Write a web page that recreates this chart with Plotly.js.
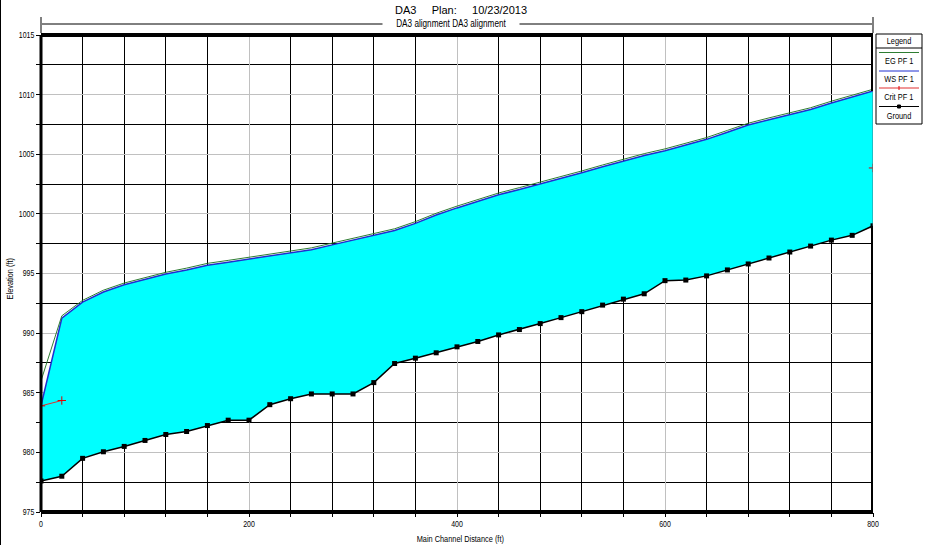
<!DOCTYPE html>
<html>
<head>
<meta charset="utf-8">
<script src="https://cdn.plot.ly/plotly-3.0.1.min.js"></script>
<style>html,body{margin:0;padding:0;background:#fff;}#chart{width:927px;height:545px;}</style>
</head>
<body>
<div id="chart"></div>
<script>
// ---- Data ----
var stations = [0,20,40,60,80,100,120,140,160,180,200,220,240,260,280,300,320,340,360,380,400,420,440,460,480,500,520,540,560,580,600,620,640,660,680,700,720,740,760,780,800];
var groundElev = [977.6,978.0,979.5,980.05,980.5,981.0,981.5,981.75,982.25,982.7,982.7,984.0,984.5,984.9,984.9,984.9,985.85,987.45,987.9,988.35,988.85,989.3,989.85,990.3,990.8,991.3,991.8,992.35,992.85,993.3,994.4,994.45,994.8,995.3,995.8,996.3,996.8,997.3,997.8,998.2,999.0];
var wsElev = [983.9,991.25,992.6,993.45,994.05,994.5,994.95,995.3,995.7,995.95,996.2,996.45,996.7,997.0,997.4,997.8,998.15,998.6,999.2,999.9,1000.5,1001.05,1001.6,1002.05,1002.5,1003.0,1003.45,1003.95,1004.45,1004.9,1005.3,1005.75,1006.25,1006.85,1007.45,1007.9,1008.3,1008.75,1009.3,1009.8,1010.3];
var egElev = [986.0,991.45,992.75,993.6,994.2,994.65,995.1,995.45,995.85,996.1,996.35,996.6,996.85,997.15,997.55,997.95,998.3,998.75,999.35,1000.05,1000.65,1001.2,1001.75,1002.2,1002.65,1003.15,1003.6,1004.1,1004.6,1005.05,1005.45,1005.9,1006.4,1007.0,1007.6,1008.05,1008.45,1008.9,1009.45,1009.95,1010.45];
var critStations = [0,20,null,800];
var critElev = [983.9,984.35,null,1003.85];
var legendLabels = ["EG PF 1","WS PF 1","Crit PF 1","Ground"];
var chartTitle = "DA3\u00A0\u00A0\u00A0\u00A0\u00A0Plan:\u00A0\u00A0\u00A0\u00A0\u00A010/23/2013";
var reachLabel = "DA3 alignment DA3 alignment";
var xTitle = "Main Channel Distance (ft)";
var yTitle = "Elevation (ft)";
var xRange = [0, 800];
var yRange = [975, 1015];

// ---- Layout helpers (pixel -> paper) ----
var L = 41, R = 873, T = 35, B = 512;
function px(x){ return (x - L) / (R - L); }
function py(y){ return (B - y) / (B - T); }
var FONT = "Liberation Sans Narrow, Arial Narrow, Liberation Sans, Arial, sans-serif";

var nLast = stations.length - 1;

var traces = [
  {x: stations, y: groundElev, mode: 'lines', line: {width: 0, color: 'rgba(0,0,0,0)'}, hoverinfo: 'skip', showlegend: false},
  {x: stations, y: wsElev, mode: 'lines', fill: 'tonexty', fillcolor: '#00FFFF', line: {color: '#1f2fd0', width: 1.5}, showlegend: false},
  {x: stations, y: egElev, mode: 'lines', line: {color: '#2e7d32', width: 1}, showlegend: false},
  {x: critStations, y: critElev, mode: 'lines+markers', connectgaps: false, line: {color: '#e03030', width: 1},
   marker: {symbol: 'cross-thin', size: 6, line: {color: '#e00000', width: 1}}, showlegend: false},
  {x: stations, y: groundElev, mode: 'lines+markers', line: {color: '#000', width: 1.5},
   marker: {symbol: 'square', size: 5, color: '#000'}, showlegend: false}
];

var shapes = [
  // thick frame (top, bottom, left above data)
  {type:'line', xref:'paper', yref:'paper', x0:0, x1:1, y0:1, y1:1, line:{color:'#000', width:4}, layer:'above'},
  {type:'line', xref:'paper', yref:'paper', x0:0, x1:1, y0:0, y1:0, line:{color:'#000', width:4}, layer:'above'},
  {type:'line', xref:'paper', yref:'paper', x0:0, x1:0, y0:0, y1:1, line:{color:'#000', width:3}, layer:'above'},
  // right frame: interrupted where the water fill reaches the end section
  {type:'line', xref:'x', yref:'y', x0:xRange[1], x1:xRange[1], y0:wsElev[nLast], y1:yRange[1], line:{color:'#000', width:4}, layer:'above'},
  {type:'line', xref:'x', yref:'y', x0:xRange[1], x1:xRange[1], y0:yRange[0], y1:groundElev[nLast], line:{color:'#000', width:4}, layer:'above'},
  {type:'line', xref:'x', yref:'y', x0:xRange[1], x1:xRange[1], y0:groundElev[nLast], y1:wsElev[nLast], line:{color:'#3a7f8a', width:1}, layer:'above'},
  // outer left border of picture
  {type:'line', xref:'paper', yref:'paper', x0:px(0.5), x1:px(0.5), y0:py(0), y1:py(545), line:{color:'#000', width:1}},
  // reach line
  {type:'line', xref:'paper', yref:'paper', x0:px(42), x1:px(872), y0:py(24), y1:py(24), line:{color:'#000', width:1}},
  {type:'line', xref:'paper', yref:'paper', x0:px(41), x1:px(41), y0:py(17), y1:py(33), line:{color:'#000', width:1}},
  {type:'line', xref:'paper', yref:'paper', x0:px(873), x1:px(873), y0:py(17), y1:py(33), line:{color:'#000', width:1}},
  // legend box
  {type:'rect', xref:'paper', yref:'paper', x0:px(876), x1:px(922), y0:py(34), y1:py(124), line:{color:'#000', width:1}, fillcolor:'#fff'},
  {type:'line', xref:'paper', yref:'paper', x0:px(876), x1:px(922), y0:py(48), y1:py(48), line:{color:'#000', width:1}},
  {type:'line', xref:'paper', yref:'paper', x0:px(879), x1:px(919), y0:py(52.5), y1:py(52.5), line:{color:'#2e7d32', width:1}},
  {type:'line', xref:'paper', yref:'paper', x0:px(879), x1:px(919), y0:py(71), y1:py(71), line:{color:'#1f2fd0', width:1}},
  {type:'line', xref:'paper', yref:'paper', x0:px(879), x1:px(919), y0:py(88), y1:py(88), line:{color:'#e03030', width:1}},
  {type:'line', xref:'paper', yref:'paper', x0:px(899), x1:px(899), y0:py(86), y1:py(90), line:{color:'#e00000', width:1}},
  {type:'line', xref:'paper', yref:'paper', x0:px(879), x1:px(919), y0:py(106.5), y1:py(106.5), line:{color:'#000', width:1}},
  {type:'rect', xref:'paper', yref:'paper', x0:px(897.5), x1:px(900.5), y0:py(105), y1:py(108), line:{color:'#000', width:1}, fillcolor:'#000'}
];

var ann = function(text, xp, yp, size, extra){
  var a = {text: text, xref:'paper', yref:'paper', x: px(xp), y: py(yp), showarrow:false,
           xanchor:'center', yanchor:'middle', font:{family: FONT, size: size, color:'#000'}};
  for (var k in (extra||{})) a[k] = extra[k];
  return a;
};

// horizontal condensing factor per annotation (narrow font look)
var annotations = [
  ann(chartTitle, 461, 10, 11),
  ann(reachLabel, 451, 24, 10, {bgcolor:'#fff', borderpad:1}),
  ann("Legend", 899, 41, 9),
  ann(legendLabels[0], 899, 61, 9),
  ann(legendLabels[1], 899, 79, 9),
  ann(legendLabels[2], 899, 97, 9),
  ann(legendLabels[3], 899, 116, 9),
  ann(yTitle, 10, 279, 9, {textangle:-90}),
  ann(xTitle, 460, 539, 9)
];
var annSqueeze = [1, 0.82, 0.82, 0.82, 0.82, 0.82, 0.82, 0.82, 0.82];

var layout = {
  width: 927, height: 545,
  margin: {l: L, r: 927 - R, t: T, b: 545 - B, pad: 0},
  paper_bgcolor: '#fff', plot_bgcolor: '#fff',
  showlegend: false,
  xaxis: {
    range: xRange, dtick: 200, tick0: 0, showgrid: true, gridcolor: '#c0c0c0', gridwidth: 1,
    zeroline: false, showline: false, ticks: 'outside', ticklen: 4, tickcolor: '#000',
    tickfont: {family: FONT, size: 8.5, color: '#000'},
    minor: {dtick: 40, tick0: 0, showgrid: true, gridcolor: '#000', gridwidth: 1, ticks: 'outside', ticklen: 4, tickcolor: '#000'},
    fixedrange: true
  },
  yaxis: {
    range: yRange, dtick: 5, tick0: 975, showgrid: true, gridcolor: '#c0c0c0', gridwidth: 1,
    zeroline: false, showline: false, ticks: 'outside', ticklen: 4, tickcolor: '#000',
    tickfont: {family: FONT, size: 8.5, color: '#000'},
    minor: {dtick: 2.5, tick0: 975, showgrid: true, gridcolor: '#000', gridwidth: 1, ticks: 'outside', ticklen: 4, tickcolor: '#000'},
    fixedrange: true
  },
  shapes: shapes,
  annotations: annotations
};

function squeeze(el, f){
  if (!el || f === 1) return;
  var bb = el.getBBox();
  var anchor = el.getAttribute('text-anchor') || window.getComputedStyle(el).textAnchor || 'start';
  var cx = anchor === 'end' ? bb.x + bb.width : (anchor === 'middle' ? bb.x + bb.width / 2 : bb.x);
  var t = el.getAttribute('transform') || '';
  el.setAttribute('transform', t + ' translate(' + cx + ',0) scale(' + f + ',1) translate(' + (-cx) + ',0)');
}

Plotly.newPlot('chart', traces, layout, {displayModeBar: false, staticPlot: true}).then(function(gd){
  var root = gd.querySelector('.main-svg') ? gd : document;
  var tickTexts = gd.querySelectorAll('.xtick text, .ytick text');
  for (var i = 0; i < tickTexts.length; i++) squeeze(tickTexts[i], 0.82);
  var annEls = gd.querySelectorAll('.annotation');
  for (var j = 0; j < annEls.length; j++) {
    var idx = parseInt(annEls[j].getAttribute('data-index'), 10);
    if (isNaN(idx)) idx = j;
    var txt = annEls[j].querySelector('text.annotation-text') || annEls[j].querySelector('text');
    squeeze(txt, annSqueeze[idx] || 1);
  }
});
</script>
</body>
</html>
